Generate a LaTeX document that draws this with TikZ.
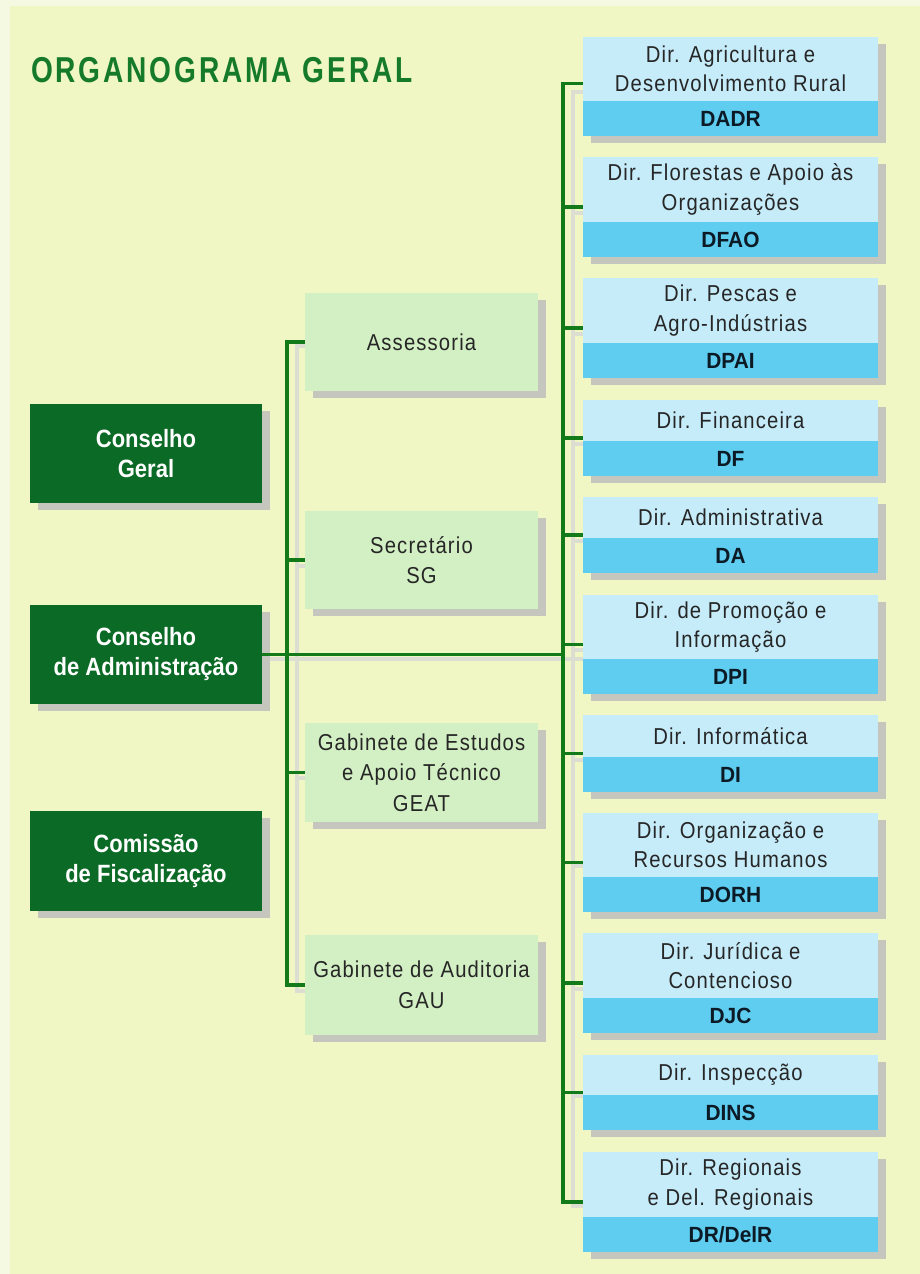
\documentclass[tikz,border=0pt]{standalone}
\usepackage{fontspec}
\setmainfont{Liberation Sans}
\newfontfamily\titlefont[FakeStretch=0.78,LetterSpace=8]{Liberation Sans}
\newfontfamily\boardfont[FakeStretch=0.88]{Liberation Sans}
\newfontfamily\regfont[FakeStretch=0.88,LetterSpace=5]{Liberation Sans}
\newfontfamily\codefont[FakeStretch=0.95]{Liberation Sans}
\usetikzlibrary{shadows}
\definecolor{bgc}{HTML}{F1F7C4}
\definecolor{outerc}{HTML}{F6F9E2}
\definecolor{titlec}{HTML}{157A2A}
\definecolor{dkgreen}{HTML}{0B6A25}
\definecolor{linec}{HTML}{137A1A}
\definecolor{ltgreen}{HTML}{D3F0C4}
\definecolor{ltblue}{HTML}{C6ECFA}
\definecolor{bandc}{HTML}{5ECDF0}
\definecolor{shadowc}{HTML}{C5C7BF}
\definecolor{lshadowc}{HTML}{DCDED2}
\definecolor{txtc}{HTML}{262626}
\definecolor{codec}{HTML}{0C1A26}
\tikzset{
  every node/.style={inner sep=0pt, outer sep=0pt},
  sh/.style={general shadow={fill=shadowc, shadow xshift=8pt, shadow yshift=-7pt}},
  boardbox/.style={sh, fill=dkgreen, minimum width=232pt, text=white,
    font=\boardfont\bfseries\fontsize{25}{30}\selectfont, align=center},
  midbox/.style={sh, fill=ltgreen, minimum width=233pt, text=txtc,
    font=\regfont\fontsize{23}{30.5}\selectfont, align=center},
  dirbox/.style={sh, fill=ltblue, minimum width=295pt},
  dirtext/.style={text=txtc, font=\regfont\fontsize{23}{29.5}\selectfont, align=center},
  codebox/.style={fill=bandc, minimum width=295pt, minimum height=35pt, text=codec,
    font=\codefont\bfseries\fontsize{22}{25}\selectfont},
  gl/.style={draw=linec, line width=3.2pt},
  gls/.style={draw=lshadowc, line width=3.5pt},
}
\newcommand\dirbox[5]{%
  \pgfmathsetmacro\bh{#3-#2}%
  \pgfmathsetmacro\bc{(#2+#3)/2}%
  \pgfmathsetmacro\tc{(#2+#3-35)/2}%
  \node[dirbox, minimum height=\bh pt] (#1) at (730.5,\bc) {};
  \node[dirtext] (#1t) at (730.5,\tc) {#4};
  \node[codebox] (#1c) at (730.5,#3-17.5) {#5};
}
\begin{document}
\begin{tikzpicture}[x=1pt,y=-1pt]
\useasboundingbox (0,0) rectangle (920,1274);
\fill[outerc] (0,0) rectangle (920,1274);
\fill[bgc] (10,6) rectangle (920,1274);

\node[anchor=base west, text=titlec, font=\titlefont\bfseries\fontsize{36}{40}\selectfont] (title) at (31,82) {ORGANOGRAMA GERAL};

% connector positions
\coordinate (lv) at (287,0);
\coordinate (rv) at (563,0);

% line shadows (drawn first)
\draw[gls] (305,346) -- (297,346) -- (297,991) -- (305,991);
\draw[gls] (297,566) -- (305,566);
\draw[gls] (297,778) -- (305,778);
\draw[gls] (270,659) -- (583,659);
\draw[gls] (583,92) -- (573,92) -- (573,1206) -- (583,1206);
\foreach \yy in {213,334,444,541,650,760,866,989,1096} {\draw[gls] (573,\yy) -- (583,\yy);}

% left board boxes
\node[boardbox, minimum height=99pt] (cg) at (146,453.5) {Conselho\\Geral};
\node[boardbox, minimum height=99pt] (ca) at (146,654.5) {Conselho\\de Administração};
\node[boardbox, minimum height=100pt] (cf) at (146,861) {Comissão\\de Fiscalização};

% middle boxes
\node[midbox, minimum height=98pt] (as) at (421.5,342) {Assessoria};
\node[midbox, minimum height=98pt] (sg) at (421.5,560) {Secretário\\SG};
\node[midbox, minimum height=99pt] (geat) at (421.5,772.5) {Gabinete de Estudos\\e Apoio Técnico\\GEAT};
\node[midbox, minimum height=100pt] (gau) at (421.5,985) {Gabinete de Auditoria\\GAU};

% right boxes
\dirbox{d1}{37}{136}{Dir. Agricultura e\\Desenvolvimento Rural}{DADR}
\dirbox{d2}{157}{257}{Dir. Florestas e Apoio às\\Organizações}{DFAO}
\dirbox{d3}{278}{378}{Dir. Pescas e\\Agro-Indústrias}{DPAI}
\dirbox{d4}{400}{476}{Dir. Financeira}{DF}
\dirbox{d5}{497}{573}{Dir. Administrativa}{DA}
\dirbox{d6}{595}{694}{Dir. de Promoção e\\Informação}{DPI}
\dirbox{d7}{715}{792}{Dir. Informática}{DI}
\dirbox{d8}{813}{912}{Dir. Organização e\\Recursos Humanos}{DORH}
\dirbox{d9}{933}{1033}{Dir. Jurídica e\\Contencioso}{DJC}
\dirbox{d10}{1055}{1130}{Dir. Inspecção}{DINS}
\dirbox{d11}{1152}{1252}{Dir. Regionais\\e Del. Regionais}{DR/DelR}

% green connectors
\draw[gl] (as.west) -| (lv |- gau.west) -- (gau.west);
\draw[gl] (lv |- sg.west) -- (sg.west);
\draw[gl] (lv |- geat.west) -- (geat.west);
\draw[gl] (ca.east) -- (rv |- ca.east);
\draw[gl] ([yshift=3pt]d1.west) -| (rv |- d11.west) -- (d11.west);
\foreach \n in {d2,d3,d4,d5,d6,d7,d8,d9,d10} {\draw[gl] (rv |- \n.west) -- (\n.west);}
\end{tikzpicture}
\end{document}
